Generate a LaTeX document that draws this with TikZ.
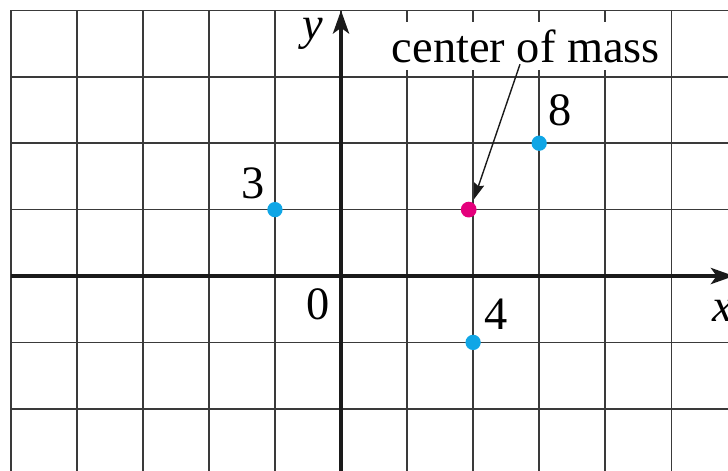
\documentclass[tikz,border=0pt]{standalone}
\usepackage{fontspec}
\setmainfont{Liberation Serif}
\usetikzlibrary{arrows.meta}
\definecolor{gridcol}{HTML}{3A3A3A}
\definecolor{axiscol}{HTML}{1A1A1A}
\definecolor{ptblue}{HTML}{10A6E6}
\definecolor{ptpink}{HTML}{E4007C}
\tikzset{
  gridline/.style={draw=gridcol, line width=0.65pt},
  axisline/.style={draw=axiscol, line width=1.4pt, -{Stealth[length=10pt,width=7pt,inset=2.5pt]}},
  mass/.style={circle, fill=ptblue, inner sep=0pt, minimum size=6.6pt},
  cmass/.style={circle, fill=ptpink, inner sep=0pt, minimum size=6.8pt},
  lbl/.style={font=\fontsize{20}{24}\selectfont, inner sep=0pt},
  pointer/.style={draw=axiscol, line width=0.6pt, -{Stealth[length=7pt,width=4.5pt,inset=1pt]}}
}
\begin{document}
\begin{tikzpicture}[x=1.0008cm, y=1.006cm]
\useasboundingbox (-5.163,-2.922) rectangle (5.859,4.157);
\clip (-5.163,-2.922) rectangle (5.859,4.157);
% grid
\foreach \i in {-5,...,5} { \draw[gridline] (\i,-3) -- (\i,4); }
\foreach \j in {-2,...,4} { \draw[gridline] (-5,\j) -- (6,\j); }
% axes
\coordinate (xs) at (-5,0);
\coordinate (xe) at (5.95,0);
\coordinate (ys) at (0,-3);
\coordinate (ye) at (0,4.0);
\draw[axisline] (xs) -- (xe);
\draw[axisline] (ys) -- (ye);
% axis labels
\node[lbl] (xl) at (5.78,-0.53) {\itshape x};
\node[lbl] (yl) at (-0.42,3.64) {\itshape y};
\node[lbl] (o) at (-0.35,-0.42) {0};
% points
\node[mass] (p3) at (-1,1) {};
\node[mass] (p8) at (3,2) {};
\node[mass] (p4) at (2,-1) {};
\node[cmass] (com) at (29/15,1) {};
\node[lbl] (l3) at (-1.332,1.40) {3};
\node[lbl] (l8) at (3.32,2.50) {8};
\node[lbl] (l4) at (2.35,-0.57) {4};
% center of mass label
\node[lbl, fill=white, inner sep=3pt] (cml) at (2.80,3.464) {center of mass};
\coordinate (arrs) at (2.71,3.19);
\draw[pointer, shorten >=1.2pt] (arrs) -- (1.998,1.114);
\end{tikzpicture}
\end{document}
